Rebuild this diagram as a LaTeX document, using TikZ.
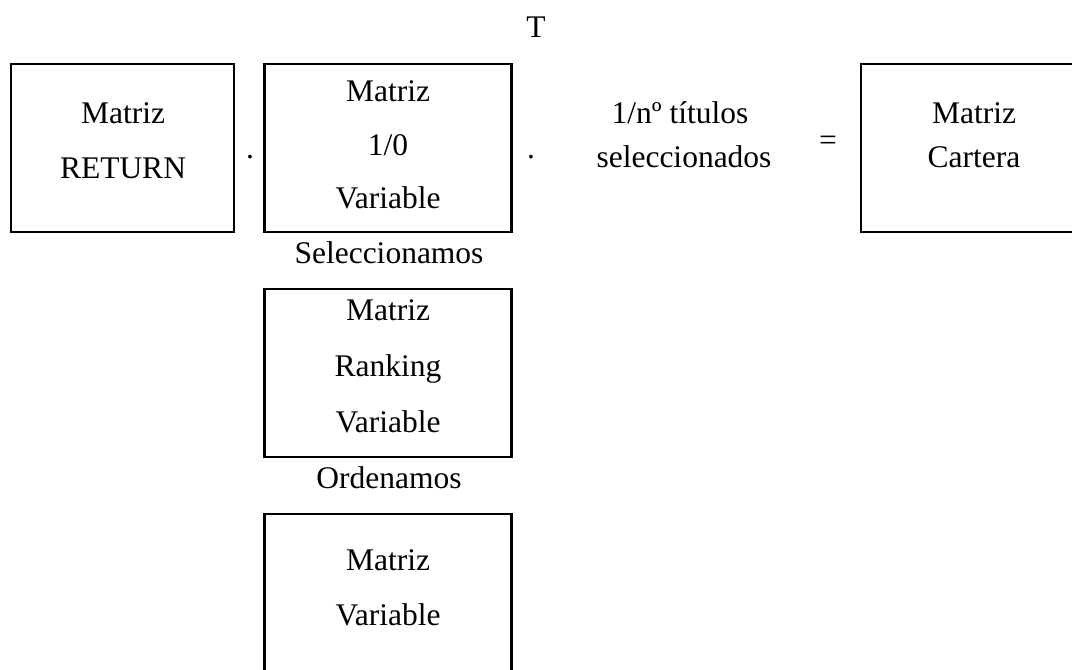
\documentclass[tikz,border=0pt]{standalone}
\usepackage{fontspec}
\setmainfont{Liberation Serif}
\begin{document}
\begin{tikzpicture}[x=1pt,y=-1pt,
  every node/.style={font=\fontsize{31.5}{38}\selectfont, inner sep=0pt, outer sep=0pt},
  mbox/.style={draw, line width=2.6pt, minimum height=168pt},
  txt/.style={anchor=base}]
\useasboundingbox (0,0) rectangle (1072,670);
\clip (0,0) rectangle (1072,670);
% boxes
\node[mbox, minimum width=223pt] (b1) at (122.3,148) {};
\node[mbox, minimum width=247pt] (b2) at (388.2,148) {};
\node[mbox, minimum width=226pt] (b4) at (974,148) {};
\node[mbox, minimum width=247pt] (b5) at (388.2,373) {};
\node[mbox, minimum width=247pt] (b6) at (388.2,598) {};
% box texts
\node[txt] (t1a) at (123,123) {Matriz};
\node[txt] (t1b) at (123,178) {RETURN};
\node[txt] (t2a) at (388,101) {Matriz};
\node[txt] (t2b) at (388,155) {1/0};
\node[txt] (t2c) at (388,208) {Variable};
\node[txt] (t4a) at (974,123) {Matriz};
\node[txt] (t4b) at (974,167) {Cartera};
\node[txt] (t5a) at (388,320) {Matriz};
\node[txt] (t5b) at (388,376) {Ranking};
\node[txt] (t5c) at (388,432) {Variable};
\node[txt] (t6a) at (388,570) {Matriz};
\node[txt] (t6b) at (388,625) {Variable};
% free texts
\node[txt] (T) at (536,37) {T};
\node[txt] (d1) at (250,158) {.};
\node[txt] (d2) at (531,158) {.};
\node[txt] (f1) at (680,123) {1/nº títulos};
\node[txt] (f2) at (684,167) {seleccionados};
\node[txt] (eq) at (828,150) {=};
\node[txt] (sel) at (389,263) {Seleccionamos};
\node[txt] (ord) at (389,488) {Ordenamos};
\end{tikzpicture}
\end{document}
